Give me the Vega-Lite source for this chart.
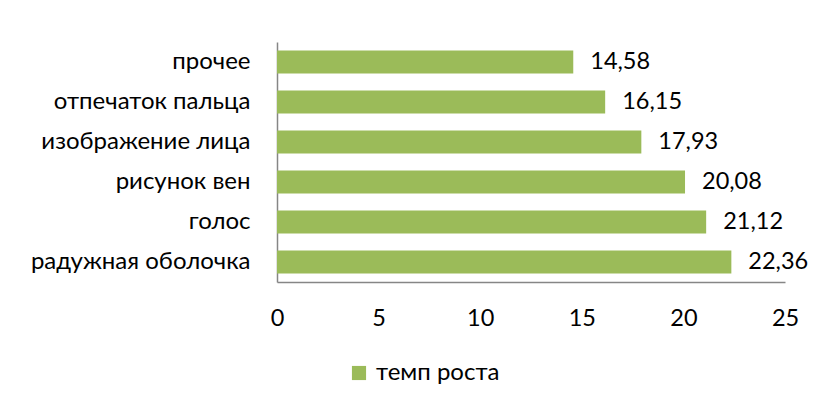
{
  "$schema": "https://vega.github.io/schema/vega-lite/v6.json",
  "width": 508,
  "height": 240,
  "autosize": "none",
  "padding": {"left": 277, "top": 42, "right": 32, "bottom": 126},
  "background": "white",
  "config": {
    "view": {"stroke": null},
    "font": "Lato",
    "locale": {"number": {"decimal": ",", "thousands": " ", "grouping": [3], "currency": ["", ""]}}
  },
  "data": {
    "values": [
      {"category": "прочее", "value": 14.58},
      {"category": "отпечаток пальца", "value": 16.15},
      {"category": "изображение лица", "value": 17.93},
      {"category": "рисунок вен", "value": 20.08},
      {"category": "голос", "value": 21.12},
      {"category": "радужная оболочка", "value": 22.36}
    ]
  },
  "encoding": {
    "y": {
      "field": "category", "type": "nominal", "sort": null,
      "scale": {"paddingInner": 0.425, "paddingOuter": 0.2125},
      "axis": {"title": null, "domain": true, "domainColor": "#868686", "domainWidth": 1.5, "ticks": false,
               "labelFontSize": 24, "labelPadding": 27, "labelColor": "#000", "labelLimit": 300}
    },
    "x": {
      "field": "value", "type": "quantitative",
      "scale": {"domain": [0, 25], "nice": false},
      "axis": {"title": null, "values": [0, 5, 10, 15, 20, 25], "grid": false, "ticks": false,
               "domainColor": "#868686", "domainWidth": 1.5, "labelFontSize": 23.5, "labelPadding": 24,
               "labelColor": "#000", "labelFlush": false}
    }
  },
  "layer": [
    {
      "mark": {"type": "bar"},
      "encoding": {
        "color": {
          "datum": "темп роста",
          "scale": {"range": ["#9BBB59"]},
          "legend": {"orient": "none", "legendX": 70, "legendY": 319, "title": null, "symbolType": "square",
                     "symbolSize": 200, "symbolStrokeWidth": 0, "labelFontSize": 24, "labelColor": "#000",
                     "padding": 0, "labelOffset": 5}
        }
      }
    },
    {
      "mark": {"type": "text", "align": "left", "baseline": "middle", "dx": 17, "fontSize": 23.5, "color": "#000"},
      "encoding": {"text": {"field": "value", "type": "quantitative", "format": ".2f"}}
    }
  ]
}
